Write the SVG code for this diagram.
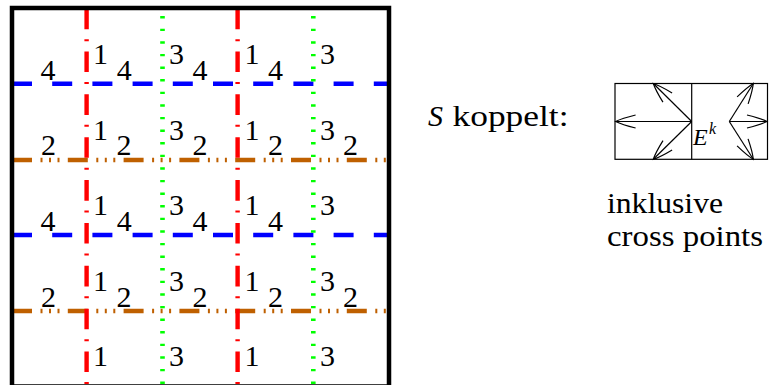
<svg xmlns="http://www.w3.org/2000/svg" width="769" height="385" viewBox="0 0 769 385">
<style>
.d{font-family:'Liberation Serif','DejaVu Serif',serif;font-size:30px;fill:#000;text-anchor:middle}
.t{font-family:'Liberation Serif','DejaVu Serif',serif;font-size:30px;fill:#000}
.it{font-style:italic}
.blue{stroke:#0000ff;stroke-width:4.4;stroke-dasharray:20 20.2;fill:none}
.orange{stroke:#bf6000;stroke-width:4.4;stroke-dasharray:20 8.5 2 6.5 2 6.5 2 8.3;fill:none}
.red{stroke:#ff0000;stroke-width:4.4;stroke-dasharray:20.6 9.9 2 10.36;fill:none}
.green{stroke:#00ff00;stroke-width:4.6;stroke-dasharray:2.4 10.2;stroke-dashoffset:4.5;fill:none}
.thin{stroke:#000;stroke-width:1.2;fill:none}
.arr{stroke:#000;stroke-width:1.2;fill:none;marker-end:url(#ah)}
</style>
<defs>
<marker id="ah" markerUnits="userSpaceOnUse" markerWidth="30" markerHeight="20" refX="0" refY="0" viewBox="-24 -10 30 20" orient="auto" overflow="visible">
<path d="M-20,-6.5 C-13,-4.8 -4,-2 0,0 C-4,2 -13,4.8 -20,6.5" stroke="#000" stroke-width="1.2" fill="none"/>
</marker>
</defs>
<rect width="769" height="385" fill="#fff"/>
<g id="connectors">
<line class="blue" x1="12" y1="83.8" x2="389" y2="83.8"/>
<line class="blue" x1="12" y1="235" x2="389" y2="235"/>
<line class="orange" x1="12" y1="160" x2="389" y2="160"/>
<line class="orange" x1="12" y1="311" x2="389" y2="311"/>
<line class="red" x1="86.6" y1="8.64" x2="86.6" y2="386"/>
<line class="red" x1="237.6" y1="8.64" x2="237.6" y2="386"/>
<line class="green" x1="162.5" y1="8" x2="162.5" y2="386"/>
<line class="green" x1="313.3" y1="8" x2="313.3" y2="386"/>
</g>
<g id="frame">
<rect x="12" y="8" width="377" height="378.5" fill="none" stroke="#000" stroke-width="4.5"/>
</g>
<g id="labels">
<text class="d" x="48" y="79.5">4</text>
<text class="d" x="124.2" y="79.5">4</text>
<text class="d" x="200" y="79.5">4</text>
<text class="d" x="275.5" y="79.5">4</text>
<text class="d" x="48" y="230.5">4</text>
<text class="d" x="124.2" y="230.5">4</text>
<text class="d" x="200" y="230.5">4</text>
<text class="d" x="275.5" y="230.5">4</text>
<text class="d" x="48.5" y="155">2</text>
<text class="d" x="124" y="155">2</text>
<text class="d" x="200" y="155">2</text>
<text class="d" x="275.5" y="155">2</text>
<text class="d" x="350.5" y="155">2</text>
<text class="d" x="48.5" y="306.5">2</text>
<text class="d" x="124" y="306.5">2</text>
<text class="d" x="200" y="306.5">2</text>
<text class="d" x="275.5" y="306.5">2</text>
<text class="d" x="350.5" y="306.5">2</text>
<text class="d" x="100.5" y="64">1</text>
<text class="d" x="252" y="64">1</text>
<text class="d" x="100.5" y="139.5">1</text>
<text class="d" x="252" y="139.5">1</text>
<text class="d" x="100.5" y="215">1</text>
<text class="d" x="252" y="215">1</text>
<text class="d" x="100.5" y="290.5">1</text>
<text class="d" x="252" y="290.5">1</text>
<text class="d" x="100.5" y="366">1</text>
<text class="d" x="252" y="366">1</text>
<text class="d" x="176.5" y="64">3</text>
<text class="d" x="327.5" y="64">3</text>
<text class="d" x="176.5" y="139.5">3</text>
<text class="d" x="327.5" y="139.5">3</text>
<text class="d" x="176.5" y="215">3</text>
<text class="d" x="327.5" y="215">3</text>
<text class="d" x="176.5" y="290.5">3</text>
<text class="d" x="327.5" y="290.5">3</text>
<text class="d" x="176.5" y="366">3</text>
<text class="d" x="327.5" y="366">3</text>
</g>
<g id="caption">
<text class="t it" x="428" y="125.5">S</text>
<text class="t" x="452.5" y="125.5" textLength="116" lengthAdjust="spacingAndGlyphs">koppelt:</text>
<text class="t" x="607" y="213" textLength="116" lengthAdjust="spacingAndGlyphs">inklusive</text>
<text class="t" x="607" y="246" textLength="156" lengthAdjust="spacingAndGlyphs">cross points</text>
</g>
<g id="stencil">
<rect class="thin" x="615" y="83.5" width="152.5" height="75.8"/>
<line class="thin" x1="691.7" y1="83.5" x2="691.7" y2="159.3"/>
<line class="arr" x1="691.7" y1="121.5" x2="615.6" y2="121.5"/>
<line class="arr" x1="691.7" y1="121.5" x2="653.3" y2="83.5"/>
<line class="arr" x1="691.7" y1="121.5" x2="653.3" y2="159.3"/>
<line class="arr" x1="729.3" y1="121.5" x2="767" y2="121.5"/>
<line class="arr" x1="729.3" y1="121.5" x2="753.3" y2="83.5"/>
<line class="arr" x1="729.3" y1="121.5" x2="753.3" y2="159.3"/>
<text class="t it" x="693" y="145" style="font-size:24px">E</text>
<text class="t it" x="709" y="134" style="font-size:16px">k</text>
</g>
</svg>
